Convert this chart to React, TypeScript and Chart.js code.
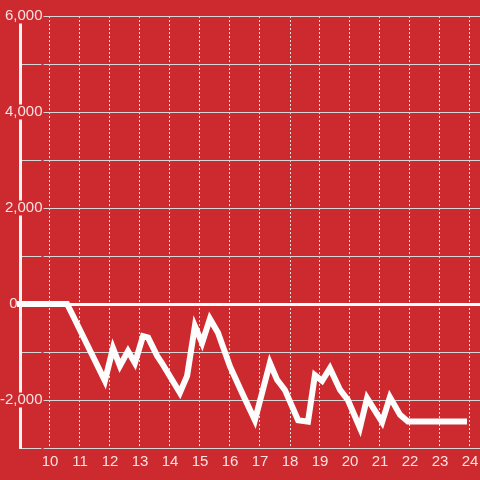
import React, { useEffect, useRef } from "react";
import { Chart, registerables } from "chart.js";

Chart.register(...registerables);

// Data (x = hour of day, y = value)
const xValues = [
  9.0, 10.57, 10.77, 11.83, 12.1, 12.33, 12.6, 12.83, 13.1, 13.27, 13.57, 13.73,
  14.33, 14.57, 14.83, 15.07, 15.33, 15.6, 16.0, 16.4, 16.83, 17.33, 17.57, 17.83,
  18.27, 18.6, 18.83, 19.07, 19.33, 19.67, 19.93, 20.33, 20.57, 21.07, 21.33, 21.67,
  21.93, 23.8,
];
const yValues = [
  0, 0, -250, -1600, -920, -1290, -980, -1230, -670, -700, -1080, -1230,
  -1850, -1500, -460, -810, -310, -600, -1300, -1850, -2420, -1230, -1580, -1790,
  -2420, -2450, -1480, -1600, -1340, -1790, -2000, -2580, -1960, -2460, -1940, -2310,
  -2450, -2450,
];
const xTicks = [10, 11, 12, 13, 14, 15, 16, 17, 18, 19, 20, 21, 22, 23, 24];
const yLabelled = [6000, 4000, 2000, 0, -2000];

const RED = "#cc2a2e";
const GRID = "#d6d6d6";
const VGRID = "#e4e4e4";
const TEXT = "rgba(255,240,240,0.92)";
const FONT = "'Liberation Sans', Arial, sans-serif";

export default function App() {
  const ref = useRef<HTMLCanvasElement | null>(null);

  useEffect(() => {
    if (!ref.current) return;
    const chart = new Chart(ref.current, {
      type: "line",
      data: {
        datasets: [
          {
            data: xValues.map((x, i) => ({ x, y: yValues[i] })),
            borderColor: "#fdfdfd",
            borderWidth: 6,
            pointRadius: 0,
            tension: 0,
            borderCapStyle: "square",
            borderJoinStyle: "miter",
            clip: false as any,
          },
        ],
      },
      options: {
        animation: false,
        responsive: false,
        layout: { padding: { top: 16, left: 0, right: 0, bottom: 0 } },
        plugins: { legend: { display: false }, tooltip: { enabled: false } },
        scales: {
          x: {
            type: "linear",
            min: 9,
            max: 9 + 460 / 30,
            afterBuildTicks: (s: any) => {
              s.ticks = xTicks.map((v) => ({ value: v }));
            },
            afterFit: (s: any) => {
              s.height = 32;
              s.paddingLeft = 0;
              s.paddingRight = 0;
            },
            grid: { color: VGRID, lineWidth: 1, drawTicks: false },
            border: { color: GRID, width: 1, dash: [2, 2] },
            ticks: {
              color: TEXT,
              font: { family: FONT, size: 15 },
              padding: 5,
              maxRotation: 0,
              autoSkip: false,
              callback: (v: any) => String(v),
            },
          },
          y: {
            type: "linear",
            min: -3000,
            max: 6000,
            afterFit: (s: any) => {
              s.width = 20;
              s.paddingTop = 0;
              s.paddingBottom = 0;
            },
            grid: {
              drawTicks: false,
              color: (c: any) => (c.tick && c.tick.value === 0 ? "#ffffff" : GRID),
              lineWidth: (c: any) => (c.tick && c.tick.value === 0 ? 3 : 1),
            },
            border: { color: "#f4f4f4", width: 3 },
            ticks: {
              stepSize: 1000,
              color: TEXT,
              font: { family: FONT, size: 15, lineHeight: 1 },
              mirror: true,
              crossAlign: "far",
              padding: -20,
              showLabelBackdrop: true,
              backdropPadding: { top: 0, bottom: 0, left: 1, right: 1 },
              backdropColor: (c: any) =>
                c.tick && c.tick.value === 0 ? "rgba(0,0,0,0)" : RED,
              callback: (v: any) => {
                const n = Number(v);
                if (!yLabelled.includes(n)) return "";
                if (n === 0) return "0      ";
                return n.toLocaleString("en-US");
              },
            },
          },
        },
      },
    });
    return () => chart.destroy();
  }, []);

  return (
    <div
      style={{
        position: "fixed",
        left: 0,
        top: 0,
        width: 480,
        height: 480,
        background: RED,
      }}
    >
      <canvas ref={ref} width={480} height={480} style={{ display: "block" }} />
    </div>
  );
}
